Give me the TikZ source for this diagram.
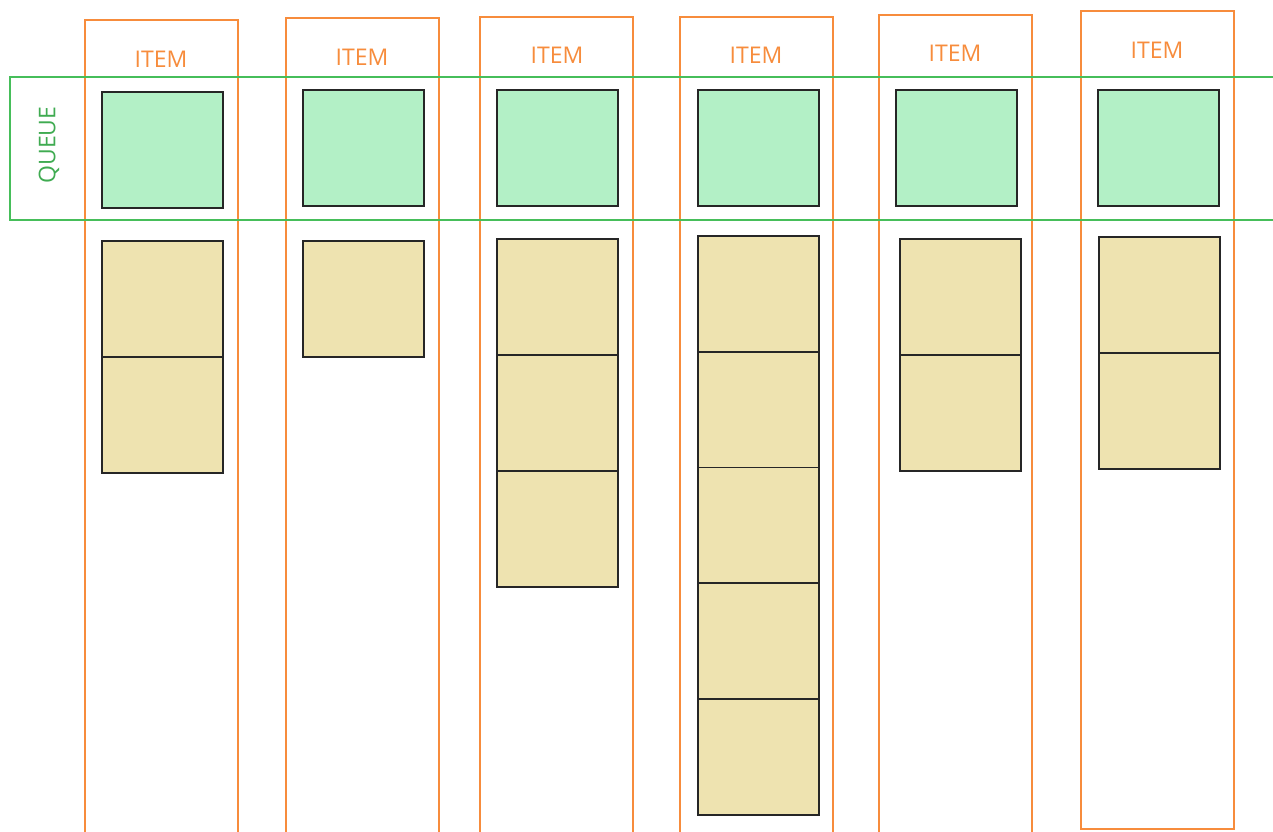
\documentclass[tikz,border=0pt]{standalone}
\usepackage{fontspec}
\setmainfont{Open Sans}
\definecolor{orng}{RGB}{247,140,60}
\definecolor{qgreen}{RGB}{70,190,90}
\definecolor{gfill}{RGB}{179,240,198}
\definecolor{tfill}{RGB}{238,227,176}
\tikzset{
  colbox/.style={draw=orng, line width=1.5pt, inner sep=0pt, minimum width=153pt},
  gbox/.style={draw=black!85, line width=1.6pt, fill=gfill, inner sep=0pt, minimum width=121pt, minimum height=116pt},
  tbox/.style={draw=black!85, line width=1.6pt, fill=tfill, inner sep=0pt, minimum width=121pt, minimum height=116pt},
  itemlbl/.style={text=orng, font=\fontsize{23}{26}\selectfont, inner sep=0pt},
  queuelbl/.style={text=qgreen!90!black, font=\fontsize{23}{26}\selectfont, inner sep=0pt, rotate=90},
  queuebox/.style={draw=qgreen, line width=1.5pt}
}
\begin{document}
\begin{tikzpicture}[x=1pt,y=-1pt]
\useasboundingbox (0,0) rectangle (1273,831);
\clip (0,0) rectangle (1273,831);
\fill[white] (0,0) rectangle (1273,831);
% columns
\node[colbox, minimum height=830pt, anchor=north west] (c1) at (84,19) {};
\node[colbox, minimum height=830pt, anchor=north west] (c2) at (285,17) {};
\node[colbox, minimum height=830pt, anchor=north west] (c3) at (479,16) {};
\node[colbox, minimum height=830pt, anchor=north west] (c4) at (679,16) {};
\node[colbox, minimum height=830pt, anchor=north west] (c5) at (878,14) {};
\node[colbox, minimum height=818pt, anchor=north west] (c6) at (1080,10) {};
% queue band
\node[queuebox, minimum width=1300pt, minimum height=143pt, anchor=north west, inner sep=0pt] (queue) at (9,76) {};
\node[queuelbl] (qlbl) at (49,145) {QUEUE};
% item labels
\node[itemlbl] (i1) at (161,59) {ITEM};
\node[itemlbl] (i2) at (362,57) {ITEM};
\node[itemlbl] (i3) at (557,55) {ITEM};
\node[itemlbl] (i4) at (756,55) {ITEM};
\node[itemlbl] (i5) at (955,53) {ITEM};
\node[itemlbl] (i6) at (1157,50) {ITEM};
% queue boxes
\node[gbox, anchor=north west] (g1) at (101,91) {};
\node[gbox, anchor=north west] (g2) at (302,89) {};
\node[gbox, anchor=north west] (g3) at (496,89) {};
\node[gbox, anchor=north west] (g4) at (697,89) {};
\node[gbox, anchor=north west] (g5) at (895,89) {};
\node[gbox, anchor=north west] (g6) at (1097,89) {};
% stacks
\node[tbox, anchor=north west] (t11) at (101,240) {};
\node[tbox, anchor=north west] (t12) at (101,356) {};
\node[tbox, anchor=north west] (t21) at (302,240) {};
\node[tbox, anchor=north west] (t31) at (496,238) {};
\node[tbox, anchor=north west] (t32) at (496,354) {};
\node[tbox, anchor=north west] (t33) at (496,470) {};
\node[tbox, anchor=north west] (t41) at (697,235) {};
\node[tbox, anchor=north west] (t42) at (697,351) {};
\node[tbox, anchor=north west] (t43) at (697,466.5) {};
\node[tbox, anchor=north west] (t44) at (697,582) {};
\node[tbox, anchor=north west] (t45) at (697,698) {};
\node[tbox, anchor=north west] (t51) at (899,238) {};
\node[tbox, anchor=north west] (t52) at (899,354) {};
\node[tbox, anchor=north west] (t61) at (1098,236) {};
\node[tbox, anchor=north west] (t62) at (1098,352) {};
\end{tikzpicture}
\end{document}
